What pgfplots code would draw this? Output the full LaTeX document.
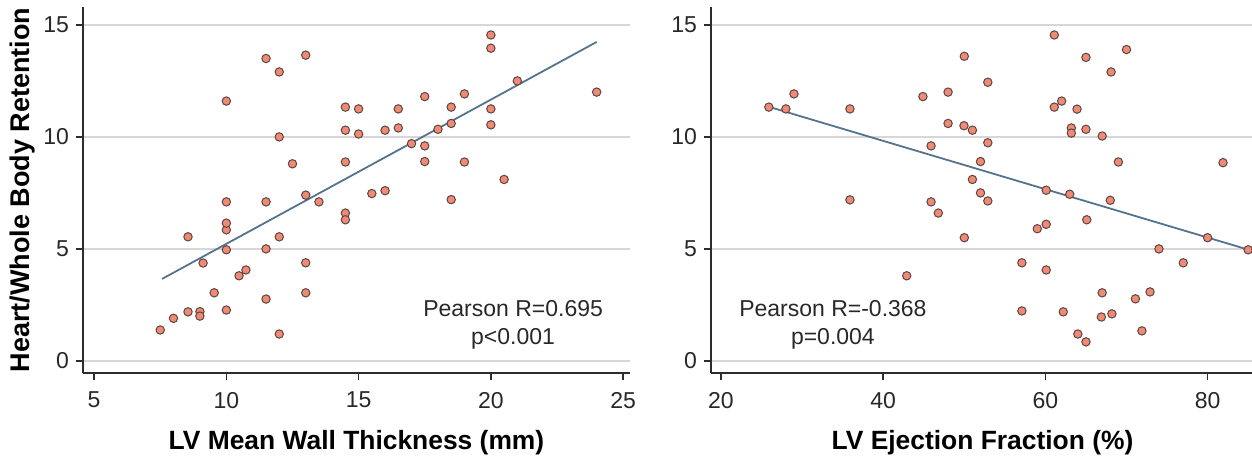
\documentclass[border=0pt]{standalone}
\usepackage{pgfplots}
\pgfplotsset{compat=1.18}
\usepackage{fontspec}
\setmainfont{Liberation Sans}
\definecolor{mfill}{RGB}{240,138,115}
\definecolor{mdraw}{RGB}{90,70,70}
\definecolor{regline}{RGB}{85,115,140}
\definecolor{gridc}{RGB}{215,215,215}
\definecolor{axc}{RGB}{45,45,45}
\definecolor{txt}{RGB}{40,40,40}
\pgfplotsset{
  myax/.style={
    scale only axis, height=183pt,
    ymin=-0.54, ymax=15.8,
    ytick={0,5,10,15},
    axis x line*=bottom, axis y line*=left,
    axis line style={axc, line width=1pt},
    tick align=outside, major tick length=3.5pt,
    tick style={axc, line width=0.8pt},
    ymajorgrids, grid style={gridc, line width=0.8pt},
    ticklabel style={font=\fontsize{11.5}{13}\selectfont, text=txt},
    xticklabel style={yshift=-2.5pt},
    /pgf/number format/assume math mode=true,
    label style={font=\fontsize{13.2}{15}\selectfont\bfseries, text=black},
    xlabel style={at={(axis description cs:0.5,0)}, anchor=center, yshift=-35pt},
  },
  pts/.style={only marks, mark=*, mark size=2.1pt,
    mark options={fill=mfill, draw=mdraw, line width=0.5pt}},
  rl/.style={regline, line width=0.9pt, no marks},
}
\begin{document}
\begin{tikzpicture}
\begin{axis}[myax, at={(0pt,0pt)}, anchor=south west,
  width=273.5pt, xmin=4.58, xmax=25.26, xtick={5,10,15,20,25},
  xlabel={LV Mean Wall Thickness (mm)},
  ylabel={Heart/Whole Body Retention},
  ylabel style={at={(axis description cs:0,0.5)}, anchor=center, yshift=30pt,
    font=\fontsize{13.5}{15}\selectfont\bfseries},
]
\addplot[rl] coordinates {(7.57,3.66) (24.0,14.24)};
\addplot[pts] coordinates {
(7.5,1.38) (8.0,1.9) (8.55,2.19) (9.0,2.2) (9.0,2.0) (9.54,3.04) (10,2.27)
(10.48,3.8) (10.74,4.06) (9.12,4.37) (8.55,5.54) (10,4.96) (10,5.85) (10,6.15)
(11.5,5.0) (11.5,2.76) (12,5.54) (12,1.2) (13,4.38) (13,3.04) (10,11.6)
(11.5,13.5) (12,12.9) (13,13.65) (12,10.0) (12.5,8.8) (10,7.1) (11.5,7.1)
(13,7.4) (13.5,7.1) (14.5,11.33) (15,11.25) (16.5,11.25) (17.5,11.8) (19,11.92)
(18.5,11.33) (20,14.55) (20,13.96) (21,12.5) (24,12.0) (20,11.25) (20,10.54)
(14.5,10.3) (15,10.13) (16,10.3) (16.5,10.4) (18,10.34) (18.5,10.6) (17,9.7)
(17.5,9.6) (14.5,8.88) (17.5,8.9) (19,8.88) (20.5,8.1) (15.5,7.47) (16,7.6)
(18.5,7.2) (14.5,6.6) (14.5,6.3)
};
\node[align=center, text=txt, font=\fontsize{11.5}{14}\selectfont] at (axis cs:20.84,1.6) {Pearson R=0.695\\p<0.001};
\end{axis}
\begin{axis}[myax, at={(314pt,0pt)}, anchor=south west,
  width=271.5pt, xmin=18.77, xmax=85.72, xtick={20,40,60,80},
  xlabel={LV Ejection Fraction (\%)},
]
\addplot[rl] coordinates {(26.4,11.29) (85.72,4.89)};
\addplot[pts] coordinates {
(25.9,11.33) (28.0,11.25) (29.0,11.92) (35.9,11.25) (35.9,7.19) (44.9,11.8)
(48.0,12.0) (50.0,13.6) (48.0,10.6) (49.96,10.5) (45.9,9.6) (45.9,7.1) (46.8,6.6)
(61.1,14.55) (70.0,13.9) (65.0,13.55) (68.1,12.9) (52.9,12.44) (61.1,11.33)
(62.0,11.6) (63.9,11.24) (51.0,10.3) (63.2,10.4) (63.2,10.17) (65,10.34)
(67.0,10.04) (52.9,9.74) (52.0,8.9) (69.0,8.88) (81.9,8.85) (51.0,8.1)
(52.0,7.5) (52.9,7.14) (60.1,7.62) (63.0,7.44) (68.0,7.17) (65.1,6.3) (60.1,6.1)
(59.0,5.9) (42.9,3.8) (50.0,5.5) (74.0,5.0) (80.0,5.5) (85.0,4.96) (57.1,4.38)
(77.0,4.38) (60.1,4.06) (67.0,3.04) (72.9,3.08) (71.1,2.77) (57.1,2.23)
(62.2,2.19) (66.9,1.96) (68.2,2.1) (71.9,1.34) (64.0,1.2) (65.0,0.85)
};
\node[align=center, text=txt, font=\fontsize{11.5}{14}\selectfont] at (axis cs:33.8,1.6) {Pearson R=-0.368\\p=0.004};
\end{axis}
\pgfresetboundingbox
\useasboundingbox (-41.5pt,-42.5pt) rectangle (584.5pt,186.5pt);
\end{tikzpicture}
\end{document}
